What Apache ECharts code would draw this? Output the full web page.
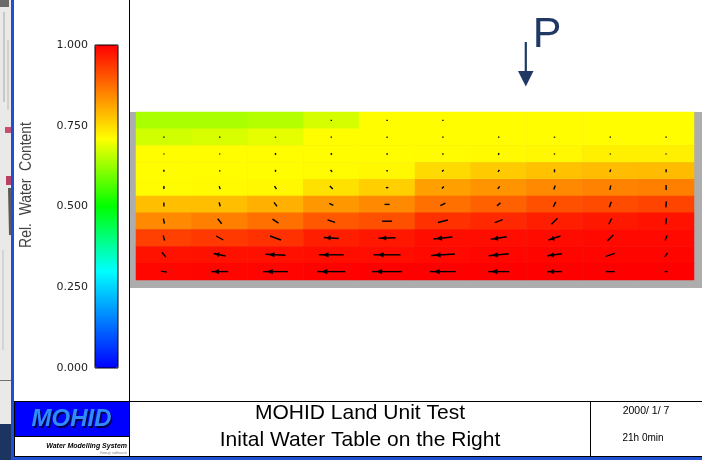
<!DOCTYPE html>
<html>
<head>
<meta charset="utf-8">
<script src="https://cdn.jsdelivr.net/npm/echarts@6/dist/echarts.min.js"></script>
<style>
html,body{margin:0;padding:0;background:#fff;}
#chart{width:702px;height:460px;}
</style>
</head>
<body>
<div id="chart"></div>
<script>
// ---- data ----
const colLabels = ['C1','C2','C3','C4','C5','C6','C7','C8','C9','C10'];
const rowLabels = ['L1','L2','L3','L4','L5','L6','L7','L8','L9','L10']; // top to bottom
const colorbarTicks = [0, 0.25, 0.5, 0.75, 1];

// relative water content per cell (rows top -> bottom)
const waterContent = [
  [0.640, 0.640, 0.648, 0.675, 0.712, 0.712, 0.712, 0.712, 0.712, 0.712],
  [0.671, 0.678, 0.688, 0.712, 0.712, 0.712, 0.712, 0.712, 0.712, 0.712],
  [0.712, 0.712, 0.712, 0.712, 0.712, 0.714, 0.716, 0.718, 0.727, 0.728],
  [0.712, 0.712, 0.712, 0.714, 0.718, 0.752, 0.770, 0.780, 0.786, 0.787],
  [0.714, 0.716, 0.718, 0.745, 0.765, 0.818, 0.832, 0.845, 0.852, 0.854],
  [0.782, 0.784, 0.800, 0.827, 0.845, 0.873, 0.891, 0.909, 0.914, 0.922],
  [0.845, 0.854, 0.873, 0.900, 0.909, 0.945, 0.955, 0.964, 0.972, 0.980],
  [0.927, 0.936, 0.945, 0.964, 0.974, 0.984, 0.986, 0.988, 0.990, 0.990],
  [0.980, 0.981, 0.982, 0.984, 0.986, 0.990, 0.992, 0.994, 0.995, 0.995],
  [0.992, 0.994, 0.996, 0.998, 1.000, 1.000, 1.000, 1.000, 1.000, 1.000]
];

// flow velocity components (u: +right, v: +up), null = no vector
const velU = [
  [null, null, null, 0, -1.5, 0, null, null, null, null],
  [0, 0, 0, 0, -1, 0, 0, 0, 0, 0],
  [0, 0, -1, -1, -1.5, -1, -1, 0, 0, 0],
  [0, 0, 0, -1.5, -1.5, -1.5, -1.5, 0, -1, 0],
  [0, -1, -2, -3, -2.5, -2, -2, -1.5, -1, 0],
  [0, -1, -3, -4, -5, -5, -3.5, -2.5, -2, -0.5],
  [-1, -4, -6, -7.5, -10, -10, -8, -6, -3, -0.5],
  [-1.5, -7, -11, -15, -17, -19, -16, -12, -6, -2],
  [-4, -12, -20, -25, -27, -24, -20, -15, -9, -3],
  [-6, -17, -25, -28, -30, -26, -21, -15, -9, -3]
];
const velV = [
  [null, null, null, 1, 0, -1, null, null, null, null],
  [1, 1, 1, 1, 0, -1, -1, -1, -1, -1],
  [1, 1, 1.5, 1.5, 0, -1, -1.5, -1, -1, -1],
  [2, 1, 2, 2, 0, -1.5, -2, -3, -2.5, -3],
  [3, 3, 3, 3, 0, -2, -2.5, -4, -4.5, -5],
  [4, 4, 4, 2, 0, -2.5, -3, -5, -5.5, -6],
  [5, 5, 4, 2.5, 0, -2.5, -3, -6, -6, -6],
  [5, 4, 4, 1, -0.5, -2, -2.5, -4, -6, -5],
  [5, 2.5, 1, 0, 0, -1.5, -2, -2, -3, -4],
  [1, 0, 0, 0, 0, 0, 0, 0, 0, 0]
];

// ---- colour scale (styling) ----
const colorStops = [[0, [0,0,255]], [0.3, [0,255,255]], [0.5, [0,255,0]], [0.71, [255,255,0]], [1, [255,0,0]]];
function stopColor(t) {
  for (let i = 1; i < colorStops.length; i++) {
    const a = colorStops[i-1], b = colorStops[i];
    if (t <= b[0]) {
      const f = (t - a[0]) / (b[0] - a[0]);
      const c = a[1].map((v, k) => Math.round(v + (b[1][k] - v) * f));
      return 'rgb(' + c.join(',') + ')';
    }
  }
  return 'rgb(255,0,0)';
}
const palette = [];
for (let i = 0; i <= 100; i++) palette.push(stopColor(i / 100));

// ---- build series data ----
const heatData = [];
const vecData = [];
for (let r = 0; r < rowLabels.length; r++) {
  for (let c = 0; c < colLabels.length; c++) {
    heatData.push([c, r, waterContent[r][c]]);
    if (velU[r][c] !== null) vecData.push([c, r, velU[r][c], velV[r][c]]);
  }
}

const chart = echarts.init(document.getElementById('chart'), null, {renderer: 'canvas'});

function renderArrow(params, api) {
  const p = api.coord([api.value(0), api.value(1)]);
  const u = api.value(2), v = api.value(3);
  let dx = u, dy = -v;
  let len = Math.hypot(dx, dy);
  if (len < 1.2) { const s = 1.2 / (len || 1); dx = (len ? dx : 0) * s; dy = (len ? dy : -1.2 / s) * s; len = 1.2; }
  const ux = dx / len, uy = dy / len;
  const tail = [p[0] - dx / 2, p[1] - dy / 2];
  const tip = [p[0] + dx / 2, p[1] + dy / 2];
  const children = [{
    type: 'line',
    shape: {x1: tail[0], y1: tail[1], x2: tip[0], y2: tip[1]},
    style: {stroke: '#000', lineWidth: 1.4}
  }];
  if (len >= 12) {
    const hd = len - Math.min(4, 0.15 * len);
    const hl = Math.min(6, 0.3 * len);
    const hw = 2.6;
    const ht = [tail[0] + ux * hd, tail[1] + uy * hd];
    const hb = [ht[0] - ux * hl, ht[1] - uy * hl];
    children.push({
      type: 'polygon',
      shape: {points: [ht, [hb[0] - uy * hw, hb[1] + ux * hw], [hb[0] + uy * hw, hb[1] - ux * hw]]},
      style: {fill: '#000'}
    });
  }
  return {type: 'group', children: children};
}

const navy = '#1f3864';
const frameBlue = '#1f50d0';

const option = {
  animation: false,
  backgroundColor: '#ffffff',
  grid: [
    {left: 95, top: 45, width: 23, height: 323, show: true, borderColor: '#000', borderWidth: 1, backgroundColor: 'transparent', z: 10},
    {left: 136, top: 112, width: 558, height: 168}
  ],
  xAxis: [
    {gridIndex: 0, type: 'value', min: 0, max: 1, show: false},
    {gridIndex: 1, type: 'category', data: colLabels, show: false}
  ],
  yAxis: [
    {gridIndex: 0, type: 'value', min: colorbarTicks[0], max: colorbarTicks[colorbarTicks.length - 1], interval: 0.25,
     axisLine: {show: false}, axisTick: {show: false}, splitLine: {show: false},
     axisLabel: {formatter: v => v.toFixed(3), fontFamily: 'DejaVu Sans', fontSize: 11, color: '#222', margin: 7}},
    {gridIndex: 1, type: 'category', data: rowLabels, inverse: true, show: false}
  ],
  visualMap: {
    type: 'continuous', min: 0, max: 1, seriesIndex: 0, calculable: false, hoverLink: false,
    left: 95, top: 45, itemWidth: 23, itemHeight: 323, padding: 0, text: null,
    inRange: {color: palette}
  },
  series: [
    {type: 'heatmap', xAxisIndex: 1, yAxisIndex: 1, data: heatData, emphasis: {disabled: true}, itemStyle: {borderWidth: 0}},
    {type: 'custom', xAxisIndex: 1, yAxisIndex: 1, data: vecData, renderItem: renderArrow, z: 5, silent: true}
  ],
  graphic: {elements: [
    // gray frame around the section
    {type: 'rect', z: -5, shape: {x: 130, y: 112, width: 572, height: 176}, style: {fill: '#adadad'}},
    // left background strip
    {type: 'rect', z: 50, shape: {x: 0, y: 0, width: 11, height: 460}, style: {fill: '#e9e9e9'}},
    {type: 'rect', z: 51, shape: {x: 0, y: 0, width: 9, height: 7}, style: {fill: '#6a6a6a'}},
    {type: 'rect', z: 51, shape: {x: 3, y: 12, width: 2, height: 90}, style: {fill: '#c8c8c8'}},
    {type: 'rect', z: 51, shape: {x: 7, y: 40, width: 2, height: 70}, style: {fill: '#d2d2d2'}},
    {type: 'rect', z: 51, shape: {x: 5, y: 127, width: 6, height: 6}, style: {fill: '#c45070'}},
    {type: 'rect', z: 51, shape: {x: 6, y: 176, width: 5, height: 9}, style: {fill: '#b84062'}},
    {type: 'polygon', z: 51, shape: {points: [[8, 188], [11, 188], [11, 235], [9, 235]]}, style: {fill: '#5a5a5a'}},
    {type: 'rect', z: 51, shape: {x: 2, y: 250, width: 2, height: 100}, style: {fill: '#d4d4d4'}},
    {type: 'rect', z: 51, shape: {x: 0, y: 380, width: 11, height: 1}, style: {fill: '#707070'}},
    {type: 'rect', z: 51, shape: {x: 0, y: 424, width: 14, height: 36}, style: {fill: '#1b3560'}},
    {type: 'rect', z: 52, shape: {x: 11, y: 0, width: 3, height: 460}, style: {fill: frameBlue}},
    {type: 'rect', z: 52, shape: {x: 11, y: 457, width: 691, height: 3}, style: {fill: frameBlue}},
    // panel lines
    {type: 'line', z: 53, shape: {x1: 129.5, y1: 0, x2: 129.5, y2: 457}, style: {stroke: '#000', lineWidth: 1}},
    {type: 'line', z: 53, shape: {x1: 14, y1: 401.5, x2: 702, y2: 401.5}, style: {stroke: '#000', lineWidth: 1}},
    {type: 'line', z: 53, shape: {x1: 14, y1: 456.5, x2: 702, y2: 456.5}, style: {stroke: '#000', lineWidth: 1}},
    {type: 'line', z: 53, shape: {x1: 590.5, y1: 401, x2: 590.5, y2: 457}, style: {stroke: '#000', lineWidth: 1}},
    {type: 'line', z: 53, shape: {x1: 14.5, y1: 401, x2: 14.5, y2: 457}, style: {stroke: '#000', lineWidth: 1}},
    // MOHID logo box
    {type: 'rect', z: 53, shape: {x: 14.5, y: 401.5, width: 115, height: 35}, style: {fill: '#0000ff', stroke: '#000', lineWidth: 1}},
    {type: 'text', z: 54, x: 73, y: 421, style: {text: 'MOHID', fill: '#000050', font: 'italic bold 24px "Liberation Sans", Arial, sans-serif', align: 'center', verticalAlign: 'middle'}},
    {type: 'text', z: 55, x: 71.5, y: 419.5, style: {text: 'MOHID', fill: '#2f8cff', font: 'italic bold 24px "Liberation Sans", Arial, sans-serif', align: 'center', verticalAlign: 'middle'}},
    {type: 'text', z: 55, x: 127, y: 446, style: {text: 'Water Modelling System', fill: '#000', font: 'italic bold 7px "Liberation Sans", Arial, sans-serif', align: 'right', verticalAlign: 'middle'}},
    {type: 'text', z: 55, x: 127, y: 452.5, style: {text: 'Group software', fill: '#888', font: '4px "Liberation Sans", Arial, sans-serif', align: 'right', verticalAlign: 'middle'}},
    // titles
    {type: 'text', z: 55, x: 360, y: 413, style: {text: 'MOHID Land Unit Test', fill: '#000', font: '21px "Liberation Sans", Arial, sans-serif', align: 'center', verticalAlign: 'middle'}},
    {type: 'text', z: 55, x: 360, y: 440, style: {text: 'Inital Water Table on the Right', fill: '#000', font: '21px "Liberation Sans", Arial, sans-serif', align: 'center', verticalAlign: 'middle'}},
    {type: 'text', z: 55, x: 646, y: 411, style: {text: '2000/ 1/ 7', fill: '#000', font: '10.5px "Liberation Sans", Arial, sans-serif', align: 'center', verticalAlign: 'middle'}},
    {type: 'text', z: 55, x: 643, y: 438, style: {text: '21h 0min', fill: '#000', font: '10px "Liberation Sans", Arial, sans-serif', align: 'center', verticalAlign: 'middle'}},
    // colorbar title
    {type: 'text', z: 55, x: 26, y: 185, rotation: Math.PI / 2, scaleX: 0.82,
     style: {text: 'Rel.  Water  Content', fill: '#444', font: '17px "Liberation Sans", Arial, sans-serif', align: 'center', verticalAlign: 'middle'}},
    // precipitation marker
    {type: 'text', z: 55, x: 547, y: 35, style: {text: 'P', fill: navy, font: '43px "Liberation Sans", Arial, sans-serif', align: 'center', verticalAlign: 'middle'}},
    {type: 'line', z: 55, shape: {x1: 525.8, y1: 42, x2: 525.8, y2: 73}, style: {stroke: navy, lineWidth: 2.2}},
    {type: 'polygon', z: 55, shape: {points: [[518, 71], [533.5, 71], [525.8, 86.5]]}, style: {fill: navy}}
  ]}
};
chart.setOption(option);
</script>
</body>
</html>
